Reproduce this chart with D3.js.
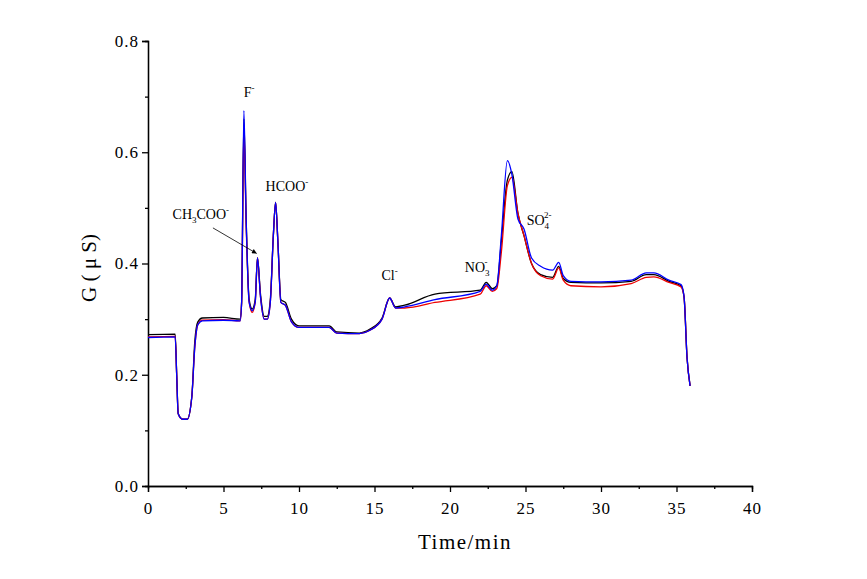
<!DOCTYPE html><html><head><meta charset="utf-8">
<script src="https://d3js.org/d3.v7.min.js"></script>
<style>body{margin:0;background:#fff}</style></head><body>
<svg id="c" width="867" height="579"></svg>
<script>
const times = [0,1.8,1.9,2.0,2.3,2.6,2.9,3.1,3.3,3.6,5,6.1,6.2,6.35,6.5,6.7,6.9,7.1,7.25,7.45,7.7,7.9,8.1,8.3,8.45,8.6,8.8,9.1,9.5,10,12,12.5,14,14.7,15.5,16,16.4,17,19,22,22.4,22.8,23.1,23.4,23.8,24.1,24.5,24.9,25.4,26,26.8,27.2,27.5,28,30,32,33,33.5,34.5,35.3,35.5,35.7,35.9];
const blue  = [0.267,0.268,0.20,0.13,0.12,0.12,0.16,0.25,0.29,0.297,0.298,0.297,0.33,0.675,0.48,0.33,0.315,0.33,0.41,0.34,0.30,0.30,0.33,0.45,0.51,0.44,0.33,0.325,0.295,0.285,0.285,0.275,0.274,0.28,0.30,0.338,0.32,0.322,0.335,0.35,0.363,0.352,0.36,0.45,0.585,0.56,0.48,0.462,0.41,0.395,0.388,0.402,0.378,0.368,0.367,0.370,0.383,0.383,0.370,0.362,0.34,0.23,0.18];
const red   = [0.268,0.269,0.20,0.13,0.12,0.12,0.16,0.25,0.29,0.298,0.299,0.297,0.33,0.64,0.47,0.33,0.312,0.33,0.41,0.34,0.30,0.30,0.33,0.45,0.51,0.44,0.33,0.325,0.295,0.285,0.285,0.275,0.274,0.28,0.30,0.338,0.32,0.32,0.33,0.345,0.36,0.35,0.355,0.42,0.54,0.555,0.49,0.45,0.40,0.378,0.372,0.392,0.37,0.36,0.358,0.364,0.375,0.376,0.366,0.358,0.34,0.23,0.18];
const black = [0.272,0.273,0.20,0.13,0.12,0.12,0.16,0.26,0.295,0.302,0.303,0.300,0.33,0.66,0.48,0.335,0.318,0.335,0.41,0.345,0.305,0.305,0.335,0.45,0.51,0.44,0.335,0.33,0.30,0.288,0.288,0.277,0.275,0.282,0.302,0.338,0.322,0.325,0.345,0.352,0.366,0.355,0.36,0.44,0.55,0.565,0.49,0.45,0.40,0.38,0.375,0.395,0.373,0.366,0.365,0.368,0.380,0.380,0.368,0.360,0.34,0.23,0.18];
const xTicks = [0,5,10,15,20,25,30,35,40];
const yTicks = [0.0,0.2,0.4,0.6,0.8];
const labels = [
 {t:6.7,g:0.70,base:"F",sub:"",sup:"-"},
 {t:3.5,g:0.48,base:"CH",sub:"3",rest:"COO",sup:"-"},
 {t:9.2,g:0.53,base:"HCOO",sub:"",sup:"-"},
 {t:16.0,g:0.37,base:"Cl",sub:"",sup:"-"},
 {t:21.8,g:0.385,base:"NO",sub:"3",sup:"-"},
 {t:25.9,g:0.47,base:"SO",sub:"4",sup:"2-"}
];
const svg=d3.select("#c");
const x=d3.scaleLinear().domain([0,40]).range([148,752]);
const y=d3.scaleLinear().domain([0,0.8]).range([486,41]);
const font="'Liberation Serif','DejaVu Serif',serif";
const xa=svg.append("g").attr("transform","translate(0,486)")
 .call(d3.axisBottom(x).tickValues(xTicks).tickSize(6).tickFormat(d3.format("d")));
svg.append("g").attr("transform","translate(0,486)")
 .call(d3.axisBottom(x).tickValues(d3.range(2.5,40,5)).tickSize(3).tickFormat(""));
const ya=svg.append("g").attr("transform","translate(148,0)")
 .call(d3.axisLeft(y).tickValues(yTicks).tickSize(6).tickFormat(d3.format(".1f")));
svg.append("g").attr("transform","translate(148,0)")
 .call(d3.axisLeft(y).tickValues([0.1,0.3,0.5,0.7]).tickSize(3).tickFormat(""));
svg.selectAll(".domain").attr("stroke","#000").attr("stroke-width",1.3);
svg.selectAll(".tick line").attr("stroke","#000").attr("stroke-width",1.3);
svg.selectAll(".tick text").attr("font-family",font).attr("font-size",17).attr("fill","#000").attr("letter-spacing",1);
xa.selectAll(".tick text").attr("dy","1.1em");
svg.append("text").attr("x",465).attr("y",549).attr("text-anchor","middle").attr("letter-spacing",1.5)
 .attr("font-family",font).attr("font-size",21).text("Time/min");
svg.append("text").attr("transform","translate(96,268) rotate(-90)").attr("text-anchor","middle")
 .attr("font-family",font).attr("font-size",21).text("G ( μ S)");
const line=d3.line().curve(d3.curveMonotoneX).x((d,i)=>x(times[i])).y(d=>y(d));
[[black,"#000"],[red,"#e00"],[blue,"#00f"]].forEach(([s,c])=>{
 svg.append("path").attr("d",line(s)).attr("fill","none").attr("stroke",c).attr("stroke-width",1.3);
});
labels.forEach(l=>{
 const t=svg.append("text").attr("x",x(l.t)).attr("y",y(l.g)).attr("text-anchor","middle")
  .attr("font-family",font).attr("font-size",14);
 t.append("tspan").text(l.base);
 if(l.sub){
  t.append("tspan").attr("font-size",9).attr("dy",4).text(l.sub);
  if(l.rest){t.append("tspan").attr("font-size",14).attr("dy",-4).text(l.rest);
   t.append("tspan").attr("font-size",9).attr("dy",-6).text(l.sup);}
  else t.append("tspan").attr("font-size",9).attr("dx",-5).attr("dy",-11).text(l.sup);
 } else t.append("tspan").attr("font-size",9).attr("dy",-6).text(l.sup);
});
svg.append("defs").append("marker").attr("id","ar").attr("viewBox","0 0 10 10").attr("refX",10).attr("refY",5)
 .attr("markerWidth",8).attr("markerHeight",6).attr("orient","auto")
 .append("path").attr("d","M0,0L10,5L0,10z").attr("fill","#000");
svg.append("line").attr("x1",x(4.3)).attr("y1",y(0.464)).attr("x2",x(7.2)).attr("y2",y(0.418))
 .attr("stroke","#000").attr("stroke-width",0.8).attr("marker-end","url(#ar)");
</script></body></html>
